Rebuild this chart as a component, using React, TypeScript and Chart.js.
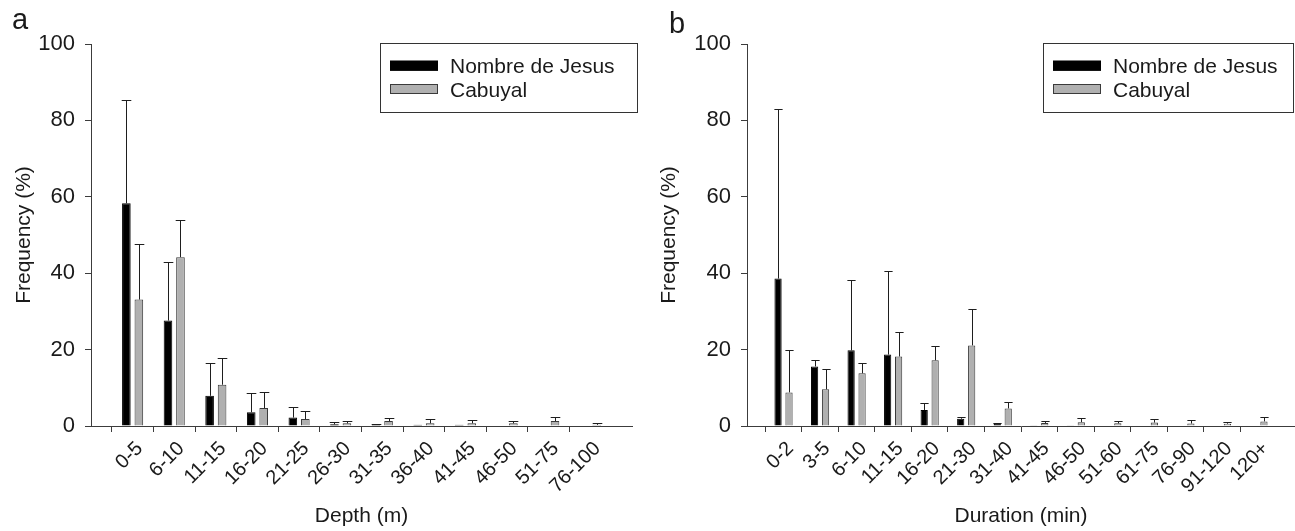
import React, { useEffect, useRef } from 'react';
import { Chart, registerables } from 'chart.js';

Chart.register(...registerables);

// ---------- Data ----------
const depthCategories = ['0-5', '6-10', '11-15', '16-20', '21-25', '26-30', '31-35', '36-40', '41-45', '46-50', '51-75', '76-100'];
const depthNombre = [58.3, 27.6, 7.9, 3.6, 2.2, 0.45, 0.3, 0.35, 0.3, 0.1, 0, 0];
const depthNombreErr = [27.0, 15.3, 8.7, 5.0, 2.7, 0.65, 0.1, 0, 0, 0, 0, 0];
const depthCabuyal = [33.1, 44.2, 10.8, 4.7, 1.8, 0.7, 1.3, 0.7, 0.7, 0.7, 1.3, 0.3];
const depthCabuyalErr = [14.6, 9.7, 6.9, 4.1, 2.0, 0.6, 0.9, 1.2, 0.9, 0.6, 1.1, 0.4];

const durationCategories = ['0-2', '3-5', '6-10', '11-15', '16-20', '21-30', '31-40', '41-45', '46-50', '51-60', '61-75', '76-90', '91-120', '120+'];
const durationNombre = [38.6, 15.6, 19.8, 18.7, 4.2, 1.9, 0.5, 0.2, 0.2, 0, 0, 0, 0, 0];
const durationNombreErr = [44.3, 1.7, 18.5, 22.0, 1.8, 0.5, 0.3, 0, 0, 0, 0, 0, 0, 0];
const durationCabuyal = [8.8, 9.6, 13.8, 18.2, 17.2, 21.1, 4.6, 0.8, 1.0, 0.7, 0.9, 0.65, 0.6, 1.2];
const durationCabuyalErr = [11.1, 5.2, 2.7, 6.5, 3.7, 9.4, 1.8, 0.4, 1.2, 0.5, 0.9, 0.8, 0.35, 1.2];

const seriesNames = ['Nombre de Jesus', 'Cabuyal'];
const yTickValues = [0, 20, 40, 60, 80, 100];

const FONT = "'Liberation Sans', Arial, Helvetica, sans-serif";
const BLACK = '#000000';
const GRAY = '#b0b0b0';
const AXIS = '#3c3c3c';
const TEXT = '#1a1a1a';

const pad = (arr: any[], fill: any) => [fill, ...arr, fill];

// ---------- Plugins ----------
const errorBarPlugin = {
  id: 'errorBars',
  afterDatasetsDraw(chart: any) {
    const ctx = chart.ctx;
    const yScale = chart.scales.y;
    chart.data.datasets.forEach((ds: any, di: number) => {
      const meta = chart.getDatasetMeta(di);
      const errs = ds.errors || [];
      meta.data.forEach((bar: any, i: number) => {
        const v = ds.data[i];
        const e = errs[i];
        if (v == null || !e) return;
        const x = Math.round(bar.x) + 0.5;
        const top = Math.round(yScale.getPixelForValue(v + e)) + 0.5;
        const base = yScale.getPixelForValue(v);
        const half = bar.width / 2 + 0.5;
        ctx.save();
        ctx.strokeStyle = '#1e1e1e';
        ctx.lineWidth = 1;
        ctx.beginPath();
        ctx.moveTo(x, base);
        ctx.lineTo(x, top);
        ctx.moveTo(x - half, top);
        ctx.lineTo(x + half, top);
        ctx.stroke();
        ctx.restore();
      });
    });
  },
};

const decorPlugin = {
  id: 'decor',
  afterDraw(chart: any, _args: any, opts: any) {
    const ctx = chart.ctx;
    const area = chart.chartArea;
    ctx.save();
    // small extension of x axis to the left of the y axis
    ctx.strokeStyle = AXIS;
    ctx.lineWidth = 1;
    ctx.beginPath();
    ctx.moveTo(area.left - 6, Math.round(area.bottom) + 0.5);
    ctx.lineTo(area.left, Math.round(area.bottom) + 0.5);
    ctx.stroke();

    // panel letter
    ctx.fillStyle = TEXT;
    ctx.font = `${opts.letterSize}px ${FONT}`;
    ctx.textBaseline = 'alphabetic';
    ctx.textAlign = 'left';
    ctx.fillText(opts.letter, opts.letterX, opts.letterY);

    // boxed legend
    const b = opts.box;
    ctx.strokeStyle = '#333333';
    ctx.lineWidth = 1;
    ctx.strokeRect(Math.round(b.x) + 0.5, Math.round(b.y) + 0.5, b.w, b.h);
    ctx.font = `21px ${FONT}`;
    chart.data.datasets.forEach((ds: any, i: number) => {
      const sy = b.y + b.rows[i];
      ctx.fillStyle = ds.backgroundColor;
      ctx.fillRect(b.x + 10, sy - 5, 48, 10);
      ctx.strokeStyle = ds.borderColor;
      ctx.strokeRect(b.x + 10.5, sy - 4.5, 47, 9);
      ctx.fillStyle = TEXT;
      ctx.fillText(ds.label, b.x + 70, sy + 7.5);
    });
    ctx.restore();
  },
};

function makeConfig(
  categories: string[],
  nombre: number[],
  nombreErr: number[],
  cabuyal: number[],
  cabuyalErr: number[],
  xTitle: string,
  layout: any,
  decor: any
) {
  const labels = pad(categories, '');
  const last = labels.length - 1;
  return {
    type: 'bar' as const,
    data: {
      labels,
      datasets: [
        {
          label: seriesNames[0],
          data: pad(nombre, null),
          errors: pad(nombreErr, null),
          backgroundColor: BLACK,
          borderColor: '#000000',
          borderWidth: 1,
          categoryPercentage: layout.catPct,
          barPercentage: layout.barPct,
        },
        {
          label: seriesNames[1],
          data: pad(cabuyal, null),
          errors: pad(cabuyalErr, null),
          backgroundColor: GRAY,
          borderColor: '#3a3a3a',
          borderWidth: 1,
          categoryPercentage: layout.catPct,
          barPercentage: layout.barPct,
        },
      ],
    },
    options: {
      responsive: false,
      animation: false,
      events: [],
      layout: { padding: { left: 0, right: layout.padRight, top: 44, bottom: 0 } },
      plugins: {
        legend: { display: false },
        tooltip: { enabled: false },
        decor,
      },
      scales: {
        x: {
          type: 'category',
          offset: false,
          grid: {
            display: true,
            drawOnChartArea: false,
            drawTicks: true,
            tickLength: 6,
            tickColor: (c: any) => (c.index === 0 || c.index === last ? 'rgba(0,0,0,0)' : AXIS),
          },
          border: { display: true, color: AXIS, width: 1 },
          ticks: {
            autoSkip: false,
            minRotation: 45,
            maxRotation: 45,
            padding: 5,
            labelOffset: 7,
            color: TEXT,
            font: { family: FONT, size: 20 },
          },
          title: {
            display: true,
            text: xTitle,
            color: TEXT,
            font: { family: FONT, size: 21 },
            padding: { top: 0, bottom: 2 },
          },
          afterFit: (s: any) => {
            s.height = 531 - 426;
            s.paddingLeft = 0;
            s.paddingRight = 0;
          },
        },
        y: {
          type: 'linear',
          min: 0,
          max: 100,
          afterBuildTicks: (s: any) => {
            s.ticks = yTickValues.map((v) => ({ value: v }));
          },
          grid: {
            display: true,
            drawOnChartArea: false,
            drawTicks: true,
            tickLength: 6,
            tickColor: AXIS,
          },
          border: { display: true, color: AXIS, width: 1 },
          ticks: {
            padding: 10,
            color: TEXT,
            font: { family: FONT, size: 22 },
          },
          title: {
            display: true,
            text: 'Frequency (%)',
            color: TEXT,
            font: { family: FONT, size: 21 },
            padding: { top: 12, bottom: 0 },
          },
          afterFit: (s: any) => {
            s.width = layout.yWidth;
            s.paddingTop = 0;
            s.paddingBottom = 0;
          },
        },
      },
    },
    plugins: [errorBarPlugin, decorPlugin],
  };
}

function BarPanel(props: { config: any; left: number; width: number }) {
  const ref = useRef<HTMLCanvasElement | null>(null);
  useEffect(() => {
    if (!ref.current) return;
    const chart = new Chart(ref.current, props.config);
    return () => chart.destroy();
  }, []);
  return (
    <canvas
      ref={ref}
      width={props.width}
      height={531}
      style={{ position: 'absolute', left: props.left, top: 0, width: props.width, height: 531 }}
    />
  );
}

export default function App() {
  const configA = makeConfig(
    depthCategories,
    depthNombre,
    depthNombreErr,
    depthCabuyal,
    depthCabuyalErr,
    'Depth (m)',
    { catPct: 0.6, barPct: 0.69, padRight: 8, yWidth: 91 },
    { letter: 'a', letterX: 12, letterY: 29, letterSize: 29, box: { x: 380, y: 43, w: 257, h: 69, rows: [22.7, 46] } }
  );
  const configB = makeConfig(
    durationCategories,
    durationNombre,
    durationNombreErr,
    durationCabuyal,
    durationCabuyalErr,
    'Duration (min)',
    { catPct: 0.6, barPct: 0.66, padRight: 0, yWidth: 102 },
    { letter: 'b', letterX: 24, letterY: 33, letterSize: 29, box: { x: 398, y: 43, w: 250, h: 69, rows: [22.7, 46] } }
  );
  return (
    <div style={{ position: 'absolute', left: 0, top: 0, width: 1295, height: 531, background: '#ffffff', overflow: 'hidden' }}>
      <BarPanel config={configA} left={0} width={640} />
      <BarPanel config={configB} left={645} width={650} />
    </div>
  );
}
